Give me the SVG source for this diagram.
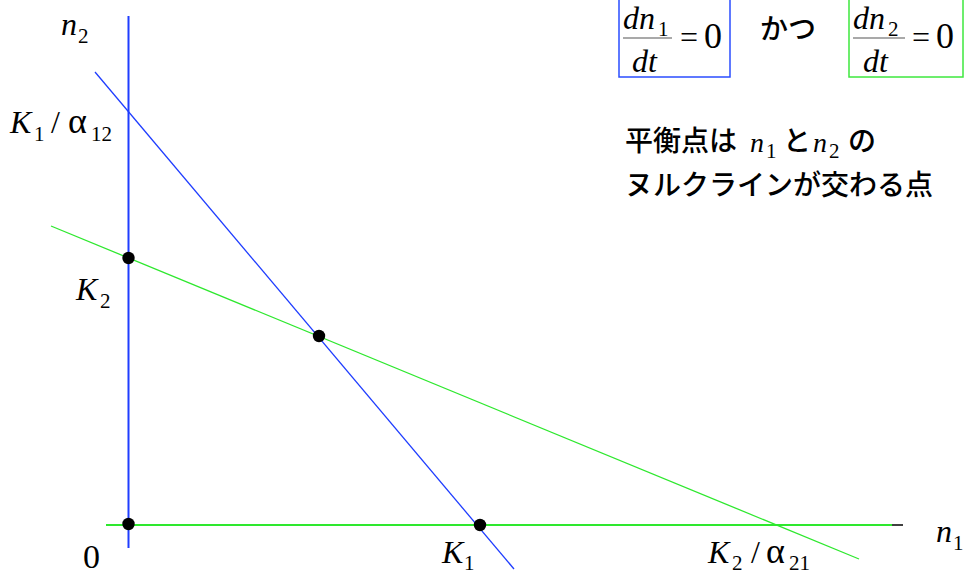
<svg xmlns="http://www.w3.org/2000/svg" width="967" height="574" viewBox="0 0 967 574">
<style>
text{font-family:'Liberation Serif',serif;font-size:32px;fill:#000}
.i{font-style:italic}
.s{font-size:21px}
.a{font-size:36px}
.z{font-size:34px}
.j{font-family:'Noto Sans CJK JP','Noto Sans',sans-serif;font-size:28px;font-weight:500}
.jm{font-family:'Liberation Serif',serif}
.b{stroke:#1f3dff;fill:none}
.g{stroke:#2ee82e;fill:none}
.dot{fill:#000}
</style>
<rect width="967" height="574" fill="#fff"/>
<g id="connectors">
<line x1="106" y1="525" x2="903" y2="525" stroke="#000" stroke-width="1.5"/>
<line class="g" x1="106" y1="525" x2="892" y2="525" stroke-width="2"/>
<line class="b" x1="128.5" y1="16" x2="128.5" y2="548" stroke-width="2"/>
<line class="b" x1="95" y1="72" x2="514" y2="569" stroke-width="1.3"/>
<line class="g" x1="51" y1="226" x2="859" y2="559" stroke-width="1.3"/>
</g>
<g id="node-K2"><circle class="dot" cx="128.5" cy="258" r="6.2"/></g>
<g id="node-eq"><circle class="dot" cx="319" cy="336" r="6.2"/></g>
<g id="node-origin"><circle class="dot" cx="128.5" cy="524" r="6.2"/></g>
<g id="node-K1"><circle class="dot" cx="480" cy="525" r="6.2"/></g>
<g id="labels">
<text y="35"><tspan class="i" x="61">n</tspan><tspan class="s" x="78" y="43">2</tspan></text>
<text y="133"><tspan class="i" x="10">K</tspan><tspan class="s" x="34" y="141">1</tspan><tspan x="51" y="133">/</tspan><tspan class="a" x="68">α</tspan><tspan class="s" x="91" y="141">12</tspan></text>
<text y="300"><tspan class="i" x="76">K</tspan><tspan class="s" x="100" y="308">2</tspan></text>
<text class="z" x="83" y="568">0</text>
<text y="563"><tspan class="i" x="442">K</tspan><tspan class="s" x="464" y="570">1</tspan></text>
<text y="563"><tspan class="i" x="708">K</tspan><tspan class="s" x="732" y="570">2</tspan><tspan x="751" y="563">/</tspan><tspan class="a" x="766">α</tspan><tspan class="s" x="789" y="570">21</tspan></text>
<text y="542"><tspan class="i" x="936">n</tspan><tspan class="s" x="953" y="550">1</tspan></text>
</g>
<g id="eq1">
<rect x="619" y="-2" width="111" height="79" fill="none" stroke="#2a4dff" stroke-width="1.5"/>
<text y="29"><tspan class="i" x="623">dn</tspan><tspan class="s" x="658" y="36">1</tspan></text>
<line x1="623" y1="38" x2="672" y2="38" stroke="#555" stroke-width="1.2"/>
<text class="i" x="632" y="72">dt</text>
<text x="680" y="48">=</text>
<text class="a" x="704" y="48">0</text>
</g>
<text class="j" x="760" y="39">かつ</text>
<g id="eq2">
<rect x="849" y="-2" width="114" height="79" fill="none" stroke="#3ee83e" stroke-width="1.5"/>
<text y="29"><tspan class="i" x="853">dn</tspan><tspan class="s" x="888" y="36">2</tspan></text>
<line x1="853" y1="38" x2="905" y2="38" stroke="#555" stroke-width="1.2"/>
<text class="i" x="863" y="72">dt</text>
<text x="912" y="48">=</text>
<text class="a" x="936" y="48">0</text>
</g>
<g id="note">
<text class="j" y="151"><tspan x="625">平衡点は</tspan><tspan class="jm i" x="750" y="152">n</tspan><tspan class="jm s" x="766" y="158">1</tspan><tspan x="783" y="151">と</tspan><tspan class="jm i" x="813" y="152">n</tspan><tspan class="jm s" x="829" y="158">2</tspan><tspan x="848" y="151">の</tspan></text>
<text class="j" x="625" y="195">ヌルクラインが交わる点</text>
</g>
</svg>
